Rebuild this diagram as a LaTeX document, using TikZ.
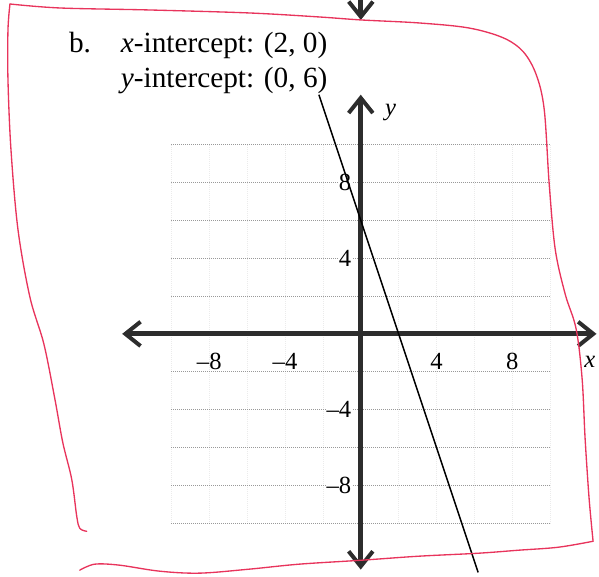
\documentclass[tikz,border=0pt]{standalone}
\usepackage{fontspec}
\setmainfont{LiberationSerif}[Extension=.ttf,UprightFont=*-Regular,ItalicFont=*-Italic,BoldFont=*-Bold,BoldItalicFont=*-BoldItalic]
\usetikzlibrary{arrows.meta}
\begin{document}
\begin{tikzpicture}[x=0.5cm,y=0.5cm,every node/.style={inner sep=0.5pt, font=\fontsize{18.5}{21}\selectfont},
  axis/.style={line width=3.6pt,color={rgb,255:red,45;green,45;blue,45},line cap=butt},
  barb/.style={arrows={-Straight Barb[length=0.40cm,width=0.64cm,line width=3pt]}},
  gridline/.style={color=gray!80,line width=0.5pt,densely dotted},
  faintgrid/.style={color=gray!16,line width=0.5pt,densely dotted},
  ylab/.style={anchor=east,fill=white},
  redpen/.style={color={rgb,255:red,232;green,52;blue,92},line width=1pt,line cap=round,line join=round}]
\foreach \u in {-10,-8,...,10}
  \draw[faintgrid] (\u,-10) -- (\u,10);
\foreach \v in {-10,-8,...,-2,2,4,...,10}
  \draw[gridline] (-10,\v) -- (10,\v);
\coordinate (xleft) at (-12.6,0);
\coordinate (xright) at (12.45,0);
\coordinate (ytop) at (0,12.63);
\coordinate (ybot) at (0,-12.45);
\draw[axis,barb] (0,0) -- (xright);
\draw[axis,barb] (0,0) -- (xleft);
\draw[axis,barb] (0,0) -- (ytop);
\draw[axis,barb] (0,0) -- (ybot);
\node (xl-8) at (-8,-1.47) {\textendash8};
\node (xl-4) at (-4,-1.47) {\textendash4};
\node (xl4) at (4,-1.47) {4};
\node (xl8) at (8,-1.47) {8};
\node[ylab] (yl8) at (-0.45,8) {8};
\node[ylab] (yl4) at (-0.45,4) {4};
\node[ylab] (yl-4) at (-0.45,-4) {\textendash4};
\node[ylab] (yl-8) at (-0.45,-8) {\textendash8};
\node (xname) at (12.1,-1.47) {\textit{x}};
\node (yname) at (1.58,11.68) {\textit{y}};
\coordinate (ftop) at (-2.21,12.63);
\coordinate (fbot) at (6.2,-12.6);
\draw[line width=1.1pt] (ftop) -- (fbot);
\begin{scope}[shift={(-19.053,17.632)},x=0.026316cm,y=-0.026316cm]
\useasboundingbox (0,0) rectangle (599,578);
\coordinate (prevtop) at (362,-2);
\coordinate (prevtip) at (362,20);
\draw[axis,barb] (prevtop) -- (prevtip);
\draw[redpen] plot[smooth,tension=0.55] coordinates {(87,533) (80,530) (77,518) (72,481) (63,444) (55,400) (44,345) (30,298) (18,230) (11,150) (8,80) (8,30) (10,4)};
\draw[redpen] plot[smooth,tension=0.55] coordinates {(10,4) (60,8) (150,10) (250,13) (320,17) (362,20) (420,23) (470,28) (505,38) (525,52) (538,75) (546,110) (551,185) (557,250) (567,295) (578,330) (584,380) (587,440) (591,500) (595,543)};
\draw[redpen] plot[smooth,tension=0.55] coordinates {(595,543) (560,549) (520,552) (480,555) (420,558) (363,562) (300,566) (250,571) (200,575) (160,573) (120,567) (95,566) (80,572)};
\node[anchor=base west,font=\fontsize{22}{26}\selectfont,inner sep=0pt] (item) at (69,53) {b.};
\node[anchor=base west,font=\fontsize{22}{26}\selectfont,inner sep=0pt] (xint) at (121,53) {\textit{x}-intercept: (2, 0)};
\node[anchor=base west,font=\fontsize{22}{26}\selectfont,inner sep=0pt] (yint) at (121,88) {\textit{y}-intercept: (0, 6)};
\end{scope}
\end{tikzpicture}
\end{document}
